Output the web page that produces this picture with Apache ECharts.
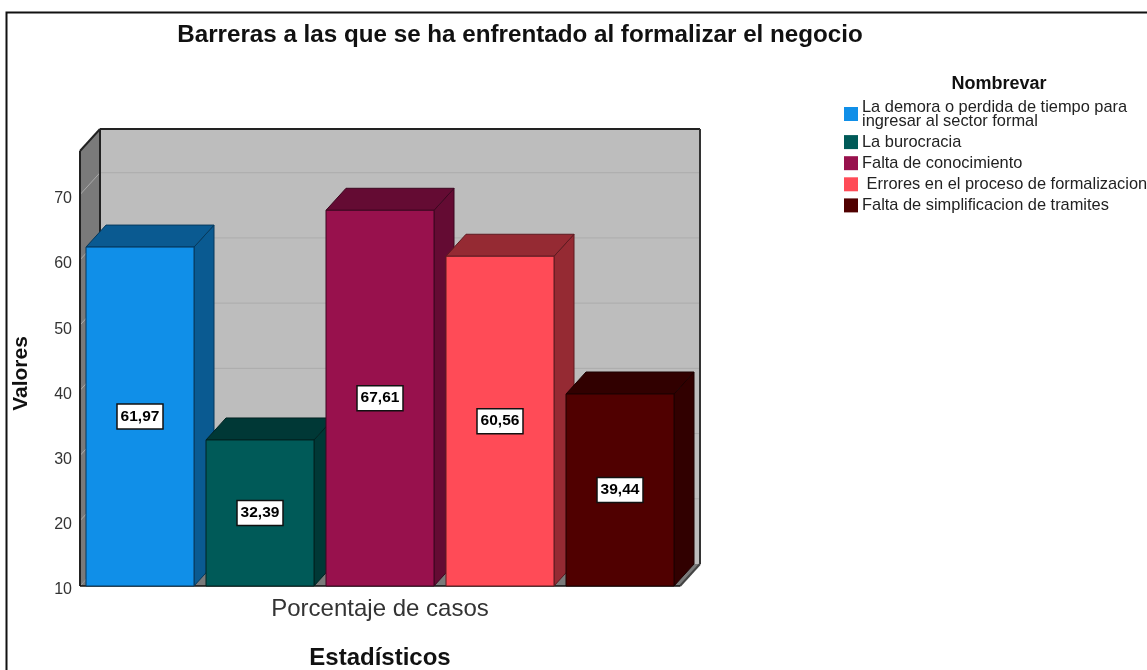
<!DOCTYPE html>
<html>
<head>
<meta charset="utf-8">
<title>Barreras</title>
<script src="https://cdn.jsdelivr.net/npm/echarts@6/dist/echarts.min.js"></script>
<style>
  html, body { margin: 0; padding: 0; background: #fff; }
  #main { width: 1147px; height: 670px; }
</style>
</head>
<body>
<div id="main"></div>
<script>
var categories = ['Porcentaje de casos'];
var seriesNames = [
  'La demora o perdida de tiempo para\ningresar al sector formal',
  'La burocracia',
  'Falta de conocimiento',
  ' Errores en el proceso de formalizacion',
  'Falta de simplificacion de tramites'
];
var seriesValues = [61.97, 32.39, 67.61, 60.56, 39.44];
var yTicks = [20, 30, 40, 50, 60, 70];

var frontColors = ['#108fe8', '#005a58', '#98114d', '#ff4b57', '#500000'];
var sideColors = ['#0a5a91', '#003836', '#640b33', '#952a33', '#310000'];
var edgeColors = ['#06395c', '#002221', '#3d0720', '#5e1a20', '#1c0000'];

var yMin = 10, yMax = 76.7;
var depthX = 20, depthY = -22;
var barStep = 0.2, barFrac = 0.18;

var myChart = echarts.init(document.getElementById('main'));

function poly(points, fill, stroke, lw) {
  return {
    type: 'polygon',
    shape: {points: points},
    style: {fill: fill, stroke: stroke || null, lineWidth: lw || 0}
  };
}

function line(x1, y1, x2, y2, stroke, lw) {
  return {
    type: 'line',
    shape: {x1: x1, y1: y1, x2: x2, y2: y2},
    style: {stroke: stroke, lineWidth: lw}
  };
}

// paredes y suelo del grafico 3D
function renderWalls(params, api) {
  var band = api.size([1, 0])[0];
  var xc = api.coord([0, yMin])[0];
  var x0 = xc - band / 2, x1 = xc + band / 2;
  var yb = api.coord([0, yMin])[1], yt = api.coord([0, yMax])[1];
  var kids = [
    poly([[x0 + depthX, yt + depthY], [x1 + depthX, yt + depthY], [x1 + depthX, yb + depthY], [x0 + depthX, yb + depthY]], '#bdbdbd'),
    poly([[x0, yt], [x0 + depthX, yt + depthY], [x0 + depthX, yb + depthY], [x0, yb]], '#7a7a7a'),
    poly([[x0, yb], [x0 + depthX, yb + depthY], [x1 + depthX, yb + depthY], [x1, yb]], '#7a7a7a')
  ];
  for (var i = 0; i < yTicks.length; i++) {
    var y = api.coord([0, yTicks[i]])[1];
    kids.push(line(x0, y, x0 + depthX, y + depthY, '#a9a9a9', 1));
    kids.push(line(x0 + depthX, y + depthY, x1 + depthX, y + depthY, '#acacac', 1));
  }
  kids.push(line(x0, yt, x0, yb, '#222', 2));
  kids.push(line(x0, yt, x0 + depthX, yt + depthY, '#222', 2));
  kids.push(line(x0 + depthX, yt + depthY, x0 + depthX, yb + depthY, '#222', 2));
  kids.push(line(x0 + depthX, yt + depthY, x1 + depthX, yt + depthY, '#222', 2));
  kids.push(line(x1 + depthX, yt + depthY, x1 + depthX, yb + depthY, '#333', 2));
  kids.push(line(x1, yb, x1 + depthX, yb + depthY, '#444', 2));
  kids.push(line(x0, yb, x1, yb, '#111', 1.5));
  return {type: 'group', children: kids};
}

function makeRenderBar(idx) {
  return function (params, api) {
    var band = api.size([1, 0])[0];
    var base = api.coord([api.value(0), yMin]);
    var top = api.coord([api.value(0), api.value(1)]);
    var xc = base[0] + (idx - 2) * barStep * band;
    var w = barFrac * band;
    var l = xc - w / 2, r = xc + w / 2;
    var edge = edgeColors[idx];
    var ym = (top[1] + base[1]) / 2;
    var txt = api.value(1).toFixed(2).replace('.', ',');
    return {
      type: 'group',
      children: [
        poly([[r, top[1]], [r + depthX, top[1] + depthY], [r + depthX, base[1] + depthY], [r, base[1]]], sideColors[idx], edge, 1),
        poly([[l, top[1]], [l + depthX, top[1] + depthY], [r + depthX, top[1] + depthY], [r, top[1]]], sideColors[idx], edge, 1),
        poly([[l, top[1]], [r, top[1]], [r, base[1]], [l, base[1]]], frontColors[idx], edge, 1),
        {
          type: 'rect',
          shape: {x: xc - 23, y: ym - 12.5, width: 46, height: 25},
          style: {fill: '#fff', stroke: '#111', lineWidth: 1.5}
        },
        {
          type: 'text',
          style: {
            x: xc, y: ym, text: txt, align: 'center', verticalAlign: 'middle',
            fill: '#000', font: 'bold 15.5px "Liberation Sans", Arial, sans-serif'
          }
        }
      ]
    };
  };
}

var series = [{
  type: 'custom',
  silent: true,
  z: 1,
  data: [[0, yMin]],
  renderItem: renderWalls
}];
for (var i = 0; i < seriesNames.length; i++) {
  series.push({
    type: 'custom',
    name: seriesNames[i],
    z: 2 + i,
    itemStyle: {color: frontColors[i]},
    data: [[0, seriesValues[i]]],
    renderItem: makeRenderBar(i)
  });
}

myChart.setOption({
  animation: false,
  backgroundColor: '#fff',
  textStyle: {fontFamily: '"Liberation Sans", Arial, sans-serif'},
  title: [{
    text: 'Barreras a las que se ha enfrentado al formalizar el negocio',
    left: 515, top: 18, textAlign: 'center',
    textStyle: {fontSize: 24.2, fontWeight: 'bold', color: '#111'}
  }, {
    text: 'Nombrevar',
    left: 994, top: 70, textAlign: 'center',
    textStyle: {fontSize: 18, fontWeight: 'bold', color: '#111'}
  }],
  legend: {
    orient: 'vertical',
    left: 839, top: 92.5,
    padding: [4, 5],
    selectedMode: false,
    icon: 'rect',
    itemWidth: 14, itemHeight: 14, itemGap: 0.1,
    data: seriesNames,
    textStyle: {fontSize: 16.4, lineHeight: 14, color: '#222', padding: [7, 0, 0, -1]}
  },
  grid: {left: 80, right: 467, top: 151, bottom: 84, outerBoundsMode: 'none'},
  xAxis: {
    type: 'category',
    data: categories,
    axisLine: {show: false},
    axisTick: {show: false},
    axisLabel: {fontSize: 24, color: '#333', margin: 11},
    name: 'Estadísticos',
    nameLocation: 'middle',
    nameGap: 60,
    nameTextStyle: {fontSize: 24, fontWeight: 'bold', color: '#111'}
  },
  yAxis: {
    type: 'value',
    min: yMin, max: yMax, interval: 10,
    axisLine: {show: false},
    axisTick: {show: false},
    splitLine: {show: false},
    axisLabel: {
      margin: 8,
      showMaxLabel: false,
      formatter: function (v) { return '{t|' + v + '}'; },
      rich: {t: {fontSize: 16, color: '#333', padding: [8, 0, 0, 0]}}
    },
    name: 'Valores',
    nameLocation: 'middle',
    nameGap: 48,
    nameTextStyle: {fontSize: 21, fontWeight: 'bold', color: '#111', padding: [0, 10, 0, 0]}
  },
  graphic: [{
    type: 'polyline',
    silent: true,
    shape: {points: [[6.5, 670], [6.5, 12.5], [1147, 12.5]]},
    style: {stroke: '#111', lineWidth: 2, fill: null}
  }],
  series: series
});
</script>
</body>
</html>
